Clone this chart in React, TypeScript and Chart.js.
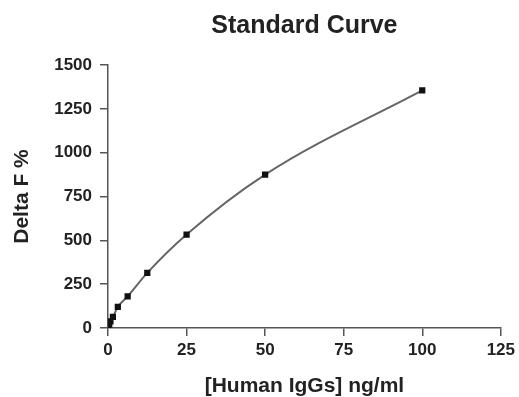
import React, { useEffect, useRef } from "react";
import { Chart, registerables } from "chart.js";

Chart.register(...registerables);

const concentrations = [0, 0.195, 0.39, 0.78, 1.5625, 3.125, 6.25, 12.5, 25, 50, 100];
const deltaF = [0, 10, 20, 38, 63, 120, 180, 314, 533, 875, 1355];
const chartTitle = "Standard Curve";
const xTitle = "[Human IgGs] ng/ml";
const yTitle = "Delta F %";

const FONT = "'Liberation Sans', Arial, sans-serif";

export default function App() {
  const ref = useRef<HTMLCanvasElement | null>(null);
  useEffect(() => {
    if (!ref.current) return;
    const chart = new Chart(ref.current, {
      type: "scatter",
      data: {
        datasets: [
          {
            data: concentrations.map((x, i) => ({ x, y: deltaF[i] })),
            showLine: true,
            borderColor: "#666",
            borderWidth: 2,
            backgroundColor: "#111",
            pointBackgroundColor: "#111",
            pointBorderColor: "#111",
            pointStyle: "rect",
            pointRadius: 3,
            cubicInterpolationMode: "monotone",
          },
        ],
      },
      options: {
        animation: false,
        responsive: false,
        layout: { padding: { top: 0, left: 0, right: 16, bottom: 0 } },
        plugins: {
          legend: { display: false },
          tooltip: { enabled: false },
          title: {
            display: true,
            text: chartTitle,
            fullSize: false,
            color: "#222",
            font: { family: FONT, size: 25, weight: "bold", lineHeight: 1.2 },
            padding: { top: 11, bottom: 24 },
          },
        },
        scales: {
          x: {
            type: "linear",
            min: 0,
            max: 125,
            ticks: {
              stepSize: 25,
              color: "#222",
              padding: 4,
              font: { family: FONT, size: 17, weight: "bold" },
              callback: (v: any) => String(v),
            },
            grid: { drawOnChartArea: false, drawTicks: true, tickLength: 8, color: "#555", lineWidth: 1.5 },
            border: { display: true, color: "#555", width: 1.5 },
            title: {
              display: true,
              text: xTitle,
              color: "#222",
              font: { family: FONT, size: 21, weight: "bold", lineHeight: 1.0 },
              padding: { top: 0, bottom: 0 },
            },
            afterFit: (s: any) => { s.height = 69; },
          },
          y: {
            min: 0,
            max: 1500,
            ticks: {
              stepSize: 250,
              color: "#222",
              padding: 8,
              font: { family: FONT, size: 17, weight: "bold" },
              callback: (v: any) => String(v),
            },
            grid: { drawOnChartArea: false, drawTicks: true, tickLength: 8, color: "#555", lineWidth: 1.5 },
            border: { display: true, color: "#555", width: 1.5 },
            title: {
              display: true,
              text: yTitle,
              color: "#222",
              font: { family: FONT, size: 21, weight: "bold", lineHeight: 1.0 },
              padding: { top: 11.5, bottom: 0 },
            },
            afterFit: (s: any) => { s.width = 108; },
          },
        },
      },
    });
    return () => chart.destroy();
  }, []);
  return (
    <div style={{ position: "absolute", left: 0, top: 0, width: 519, height: 397, background: "#fff" }}>
      <canvas ref={ref} width={519} height={397} style={{ width: 519, height: 397 }} />
    </div>
  );
}
